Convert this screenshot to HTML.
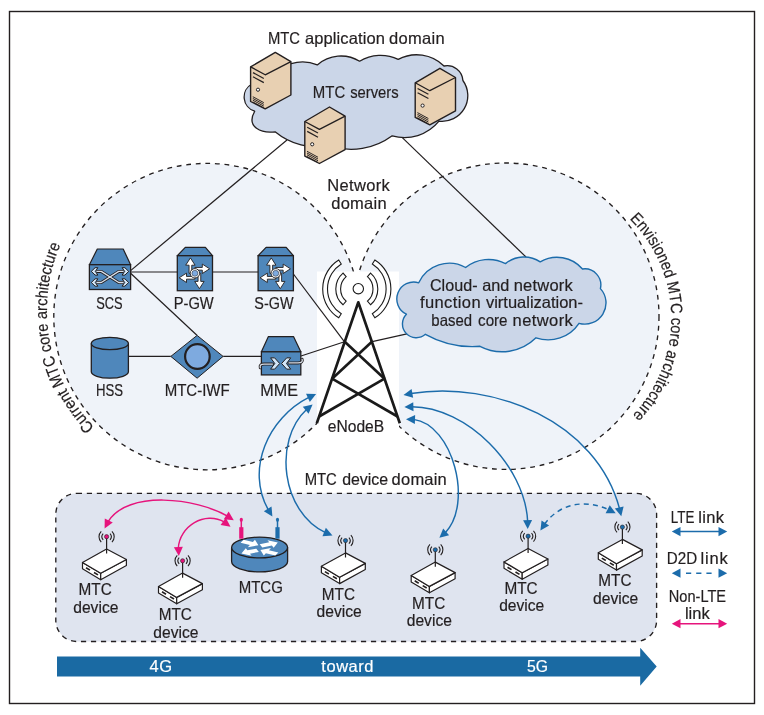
<!DOCTYPE html>
<html><head><meta charset="utf-8"><style>
html,body{margin:0;padding:0;background:#fff;}
svg{display:block;font-family:"Liberation Sans",sans-serif;will-change:transform;}
</style></head><body>
<svg width="764" height="715" viewBox="0 0 764 715">
<rect width="764" height="715" fill="#ffffff"/>
<rect x="9.5" y="11.5" width="745" height="692" fill="none" stroke="#231f20" stroke-width="1.4"/>
<circle cx="207.0" cy="316.6" r="153.2" fill="#eff3f9" stroke="#231f20" stroke-width="1.35" stroke-dasharray="4.8 4.8"/>
<circle cx="505.8" cy="316.2" r="153.2" fill="#eff3f9" stroke="#231f20" stroke-width="1.35" stroke-dasharray="4.8 4.8"/>
<rect x="317" y="271.5" width="82" height="160" fill="#ffffff"/>
<rect x="55.8" y="493.3" width="600.8" height="148.2" rx="21" ry="21" fill="#dfe4ef" stroke="#231f20" stroke-width="1.35" stroke-dasharray="5.2 4.8"/>
<path d="M57 656.5 H640.2 V647.8 L656.7 666.6 L640.2 685.8 V676.6 H57 Z" fill="#1a6aa3"/>
<line x1="130.6" y1="270.6" x2="287" y2="140" stroke="#231f20" stroke-width="1.2" />
<line x1="130.6" y1="272" x2="177.3" y2="272" stroke="#231f20" stroke-width="1.2" />
<line x1="212.5" y1="272" x2="258.1" y2="272" stroke="#231f20" stroke-width="1.2" />
<line x1="130.6" y1="273.2" x2="196.9" y2="335.3" stroke="#231f20" stroke-width="1.2" />
<line x1="128.4" y1="356.4" x2="170.8" y2="356.4" stroke="#231f20" stroke-width="1.2" />
<line x1="223.2" y1="356.3" x2="261.1" y2="356.3" stroke="#231f20" stroke-width="1.2" />
<line x1="293.4" y1="274" x2="344.5" y2="341.8" stroke="#231f20" stroke-width="1.2" />
<line x1="301" y1="356" x2="344.5" y2="341.8" stroke="#231f20" stroke-width="1.2" />
<line x1="372.2" y1="341.6" x2="412.5" y2="332.7" stroke="#231f20" stroke-width="1.2" />
<line x1="402.3" y1="137.6" x2="526" y2="257" stroke="#231f20" stroke-width="1.2" />
<path d="M291.20 63.70 A38.60 38.60 0 0 1 317.30 64.90 A35.95 35.95 0 0 1 359.60 61.20 A40.37 40.37 0 0 1 398.20 59.40 A38.99 38.99 0 0 1 444.00 66.00 A15.71 15.71 0 0 1 462.90 80.50 A25.77 25.77 0 0 1 439.00 121.20 A44.37 44.37 0 0 1 392.20 135.80 A68.65 68.65 0 0 1 330.00 146.00 A67.08 67.08 0 0 1 275.10 131.80 C262 133.5 245.5 127.5 254.70 111.20 A14.77 14.77 0 0 1 252.00 84.00 A32.54 32.54 0 0 1 291.20 63.70 Z" fill="#cbd6e8" stroke="#231f20" stroke-width="1.3" stroke-linejoin="round"/>
<path d="M418.70 282.80 A33.69 33.69 0 0 1 465.60 267.50 A36.68 36.68 0 0 1 505.50 263.60 A29.38 29.38 0 0 1 540.20 261.80 A33.43 33.43 0 0 1 582.50 269.00 A16.13 16.13 0 0 1 600.40 288.60 A21.17 21.17 0 0 1 579.00 323.30 A37.06 37.06 0 0 1 536.00 337.80 A47.97 47.97 0 0 1 480.00 346.30 A96.17 96.17 0 0 1 425.40 334.30 A13.84 13.84 0 0 1 406.40 314.20 A16.91 16.91 0 0 1 418.70 282.80 Z" fill="#cbd6e8" stroke="#1c6cab" stroke-width="1.4" stroke-linejoin="round"/>
<polygon points="275.30,52.40 290.90,61.60 290.90,95.00 265.20,108.90 250.60,101.50 250.60,66.90" fill="#e8d0b2" stroke="#231f20" stroke-width="1.4" stroke-linejoin="round" />
<polyline points="250.60,66.90 265.20,74.80 290.90,61.60" fill="none" stroke="#231f20" stroke-width="1.3" stroke-linejoin="round"/>
<line x1="253.0" y1="72.6" x2="263.8" y2="78.44" stroke="#231f20" stroke-width="1.2" />
<line x1="253.0" y1="76.8" x2="263.8" y2="82.64" stroke="#231f20" stroke-width="1.2" />
<circle cx="258.00" cy="89.70" r="1.6" fill="#fff" stroke="#231f20" stroke-width="1.0"/>
<line x1="252.8" y1="96.69" x2="263.8" y2="102.64" stroke="#231f20" stroke-width="0.95" />
<line x1="252.8" y1="98.44" x2="263.8" y2="104.39" stroke="#231f20" stroke-width="0.95" />
<line x1="252.8" y1="100.19" x2="263.8" y2="106.14" stroke="#231f20" stroke-width="0.95" />
<line x1="252.8" y1="101.94" x2="263.8" y2="107.89" stroke="#231f20" stroke-width="0.95" />
<polygon points="439.90,68.30 455.50,77.50 455.50,110.90 429.80,124.80 415.20,117.40 415.20,82.80" fill="#e8d0b2" stroke="#231f20" stroke-width="1.4" stroke-linejoin="round" />
<polyline points="415.20,82.80 429.80,90.70 455.50,77.50" fill="none" stroke="#231f20" stroke-width="1.3" stroke-linejoin="round"/>
<line x1="417.6" y1="88.5" x2="428.4" y2="94.34" stroke="#231f20" stroke-width="1.2" />
<line x1="417.6" y1="92.7" x2="428.4" y2="98.54" stroke="#231f20" stroke-width="1.2" />
<circle cx="422.60" cy="105.60" r="1.6" fill="#fff" stroke="#231f20" stroke-width="1.0"/>
<line x1="417.4" y1="112.59" x2="428.4" y2="118.54" stroke="#231f20" stroke-width="0.95" />
<line x1="417.4" y1="114.34" x2="428.4" y2="120.29" stroke="#231f20" stroke-width="0.95" />
<line x1="417.4" y1="116.09" x2="428.4" y2="122.04" stroke="#231f20" stroke-width="0.95" />
<line x1="417.4" y1="117.84" x2="428.4" y2="123.79" stroke="#231f20" stroke-width="0.95" />
<polygon points="329.50,107.00 345.10,116.20 345.10,149.60 319.40,163.50 304.80,156.10 304.80,121.50" fill="#e8d0b2" stroke="#231f20" stroke-width="1.4" stroke-linejoin="round" />
<polyline points="304.80,121.50 319.40,129.40 345.10,116.20" fill="none" stroke="#231f20" stroke-width="1.3" stroke-linejoin="round"/>
<line x1="307.2" y1="127.2" x2="318.0" y2="133.04" stroke="#231f20" stroke-width="1.2" />
<line x1="307.2" y1="131.4" x2="318.0" y2="137.24" stroke="#231f20" stroke-width="1.2" />
<circle cx="312.20" cy="144.30" r="1.6" fill="#fff" stroke="#231f20" stroke-width="1.0"/>
<line x1="307.0" y1="151.29" x2="318.0" y2="157.24" stroke="#231f20" stroke-width="0.95" />
<line x1="307.0" y1="153.04" x2="318.0" y2="158.99" stroke="#231f20" stroke-width="0.95" />
<line x1="307.0" y1="154.79" x2="318.0" y2="160.74" stroke="#231f20" stroke-width="0.95" />
<line x1="307.0" y1="156.54" x2="318.0" y2="162.49" stroke="#231f20" stroke-width="0.95" />
<polygon points="89.40,264.70 97.30,249.00 123.20,249.00 130.60,264.70" fill="#4f87bb" stroke="#231f20" stroke-width="1.2" stroke-linejoin="round" />
<rect x="89.4" y="264.7" width="41.20" height="24.80" fill="#4f87bb" stroke="#231f20" stroke-width="1.3"/>
<path d="M96.5 271.4 L101.3 271.4 L118.7 282.5 L123.5 282.5" fill="none" stroke="#231f20" stroke-width="3.0" stroke-linejoin="round"/>
<path d="M96.5 282.5 L101.3 282.5 L118.7 271.4 L123.5 271.4" fill="none" stroke="#231f20" stroke-width="3.0" stroke-linejoin="round"/>
<path d="M96.5 271.4 L101.3 271.4 L118.7 282.5 L123.5 282.5" fill="none" stroke="#d9e0ea" stroke-width="1.3" stroke-linejoin="round"/>
<path d="M96.5 282.5 L101.3 282.5 L118.7 271.4 L123.5 271.4" fill="none" stroke="#d9e0ea" stroke-width="1.3" stroke-linejoin="round"/>
<polygon points="97.90,267.70 95.10,267.70 91.30,271.40 95.10,275.10 97.90,275.10 95.30,271.40" fill="#d3e6f7" stroke="#231f20" stroke-width="1.0" stroke-linejoin="round" stroke-linejoin="miter"/>
<polygon points="122.10,267.70 124.90,267.70 128.70,271.40 124.90,275.10 122.10,275.10 124.70,271.40" fill="#d3e6f7" stroke="#231f20" stroke-width="1.0" stroke-linejoin="round" stroke-linejoin="miter"/>
<polygon points="97.90,278.80 95.10,278.80 91.30,282.50 95.10,286.20 97.90,286.20 95.30,282.50" fill="#d3e6f7" stroke="#231f20" stroke-width="1.0" stroke-linejoin="round" stroke-linejoin="miter"/>
<polygon points="122.10,278.80 124.90,278.80 128.70,282.50 124.90,286.20 122.10,286.20 124.70,282.50" fill="#d3e6f7" stroke="#231f20" stroke-width="1.0" stroke-linejoin="round" stroke-linejoin="miter"/>
<polygon points="177.30,255.70 185.30,247.30 205.40,247.30 212.50,255.70" fill="#4f87bb" stroke="#231f20" stroke-width="1.2" stroke-linejoin="round" />
<rect x="177.3" y="255.7" width="35.20" height="35.00" fill="#4f87bb" stroke="#231f20" stroke-width="1.3"/>
<polygon points="191.75,273.30 191.75,265.20 195.10,265.20 190.40,257.90 185.70,265.20 189.05,265.20 189.05,273.30" fill="#ffffff" stroke="#231f20" stroke-width="0.9" stroke-linejoin="round" stroke-linejoin="miter"/>
<polygon points="194.90,270.15 202.30,270.15 202.30,273.50 209.60,268.80 202.30,264.10 202.30,267.45 194.90,267.45" fill="#ffffff" stroke="#231f20" stroke-width="0.9" stroke-linejoin="round" stroke-linejoin="miter"/>
<polygon points="198.05,273.30 198.05,281.40 194.70,281.40 199.40,288.70 204.10,281.40 200.75,281.40 200.75,273.30" fill="#ffffff" stroke="#231f20" stroke-width="0.9" stroke-linejoin="round" stroke-linejoin="miter"/>
<polygon points="194.90,276.45 186.50,276.45 186.50,273.10 179.20,277.80 186.50,282.50 186.50,279.15 194.90,279.15" fill="#ffffff" stroke="#231f20" stroke-width="0.9" stroke-linejoin="round" stroke-linejoin="miter"/>
<circle cx="194.9" cy="273.3" r="4.7" fill="#ffffff" stroke="#231f20" stroke-width="0.9"/>
<circle cx="194.9" cy="273.3" r="3.0" fill="#7eaadf" stroke="#231f20" stroke-width="0.5"/>
<polygon points="258.10,255.70 266.10,247.30 286.20,247.30 293.40,255.70" fill="#4f87bb" stroke="#231f20" stroke-width="1.2" stroke-linejoin="round" />
<rect x="258.1" y="255.7" width="35.30" height="35.00" fill="#4f87bb" stroke="#231f20" stroke-width="1.3"/>
<polygon points="272.60,273.30 272.60,265.20 275.95,265.20 271.25,257.90 266.55,265.20 269.90,265.20 269.90,273.30" fill="#ffffff" stroke="#231f20" stroke-width="0.9" stroke-linejoin="round" stroke-linejoin="miter"/>
<polygon points="275.75,270.15 283.15,270.15 283.15,273.50 290.45,268.80 283.15,264.10 283.15,267.45 275.75,267.45" fill="#ffffff" stroke="#231f20" stroke-width="0.9" stroke-linejoin="round" stroke-linejoin="miter"/>
<polygon points="278.90,273.30 278.90,281.40 275.55,281.40 280.25,288.70 284.95,281.40 281.60,281.40 281.60,273.30" fill="#ffffff" stroke="#231f20" stroke-width="0.9" stroke-linejoin="round" stroke-linejoin="miter"/>
<polygon points="275.75,276.45 267.35,276.45 267.35,273.10 260.05,277.80 267.35,282.50 267.35,279.15 275.75,279.15" fill="#ffffff" stroke="#231f20" stroke-width="0.9" stroke-linejoin="round" stroke-linejoin="miter"/>
<circle cx="275.75" cy="273.3" r="4.7" fill="#ffffff" stroke="#231f20" stroke-width="0.9"/>
<circle cx="275.75" cy="273.3" r="3.0" fill="#7eaadf" stroke="#231f20" stroke-width="0.5"/>
<polygon points="261.40,351.80 268.40,336.60 293.50,336.60 300.80,351.80" fill="#4f87bb" stroke="#231f20" stroke-width="1.2" stroke-linejoin="round" />
<rect x="261.4" y="351.8" width="39.40" height="23.10" fill="#4f87bb" stroke="#231f20" stroke-width="1.3"/>
<path d="M260.3 367.8 Q259.3 364.1 264 364.1 L272.5 364.1" fill="none" stroke="#231f20" stroke-width="3.0" stroke-linecap="round"/>
<path d="M289 362.9 L298 362.9 Q303.3 362.7 302.1 359.3" fill="none" stroke="#231f20" stroke-width="3.0" stroke-linecap="round"/>
<path d="M260.3 367.8 Q259.3 364.1 264 364.1 L272.5 364.1" fill="none" stroke="#d9e0ea" stroke-width="1.3" stroke-linecap="round"/>
<path d="M289 362.9 L298 362.9 Q303.3 362.7 302.1 359.3" fill="none" stroke="#d9e0ea" stroke-width="1.3" stroke-linecap="round"/>
<polygon points="270.60,357.85 274.60,357.85 279.70,363.50 274.60,369.15 270.60,369.15 274.80,363.50" fill="#d3e6f7" stroke="#231f20" stroke-width="1.0" stroke-linejoin="round" stroke-linejoin="miter"/>
<polygon points="290.70,357.85 286.70,357.85 281.60,363.50 286.70,369.15 290.70,369.15 286.50,363.50" fill="#d3e6f7" stroke="#231f20" stroke-width="1.0" stroke-linejoin="round" stroke-linejoin="miter"/>
<path d="M91.3 343.5 V371.8 A18.55 6.4 0 0 0 128.4 371.8 V343.5" fill="#4f87bb" stroke="#231f20" stroke-width="1.3"/>
<ellipse cx="109.85" cy="343.5" rx="18.55" ry="6.2" fill="#4f87bb" stroke="#231f20" stroke-width="1.3"/>
<polygon points="170.80,356.40 197.10,335.40 223.10,356.40 197.10,378.20" fill="#4f87bb" stroke="#231f20" stroke-width="1.0" stroke-linejoin="round" />
<circle cx="197.4" cy="356.5" r="12.3" fill="#7eaadf" stroke="#231f20" stroke-width="2.2"/>
<path d="M343.02 273.05 A21.0 21.0 0 0 0 343.02 304.75 L346.17 301.13 A16.2 16.2 0 0 1 346.17 276.67 Z" fill="#ffffff" stroke="#1a1a1a" stroke-width="1.1" stroke-linejoin="miter"/>
<path d="M338.73 259.98 A34.1 34.1 0 0 0 338.73 317.82 L341.27 313.75 A29.3 29.3 0 0 1 341.27 264.05 Z" fill="#ffffff" stroke="#1a1a1a" stroke-width="1.1" stroke-linejoin="miter"/>
<path d="M370.58 273.05 A21.0 21.0 0 0 1 370.58 304.75 L367.43 301.13 A16.2 16.2 0 0 0 367.43 276.67 Z" fill="#ffffff" stroke="#1a1a1a" stroke-width="1.1" stroke-linejoin="miter"/>
<path d="M374.87 259.98 A34.1 34.1 0 0 1 374.87 317.82 L372.33 313.75 A29.3 29.3 0 0 0 372.33 264.05 Z" fill="#ffffff" stroke="#1a1a1a" stroke-width="1.1" stroke-linejoin="miter"/>
<circle cx="358.3" cy="288.7" r="5.2" fill="#fff" stroke="#1a1a1a" stroke-width="1.1"/>
<polyline points="316.8,423.2 358.3,302.3 399.8,423.2" fill="none" stroke="#1a1a1a" stroke-width="2.65" stroke-linejoin="round"/>
<line x1="344.74" y1="341.8" x2="384.52" y2="378.7" stroke="#1a1a1a" stroke-width="2.65" />
<line x1="371.86" y1="341.8" x2="332.08" y2="378.7" stroke="#1a1a1a" stroke-width="2.65" />
<line x1="332.08" y1="378.7" x2="397.5" y2="416.5" stroke="#1a1a1a" stroke-width="2.65" />
<line x1="384.52" y1="378.7" x2="319.1" y2="416.5" stroke="#1a1a1a" stroke-width="2.65" />
<polygon points="82.50,562.40 100.70,573.30 100.70,579.70 82.50,568.80" fill="#ffffff" stroke="#231f20" stroke-width="1.2" stroke-linejoin="round" />
<polygon points="100.70,573.30 126.40,559.50 126.40,565.58 100.70,579.70" fill="#ffffff" stroke="#231f20" stroke-width="1.2" stroke-linejoin="round" />
<polygon points="106.60,549.00 126.40,559.50 100.70,573.30 82.50,562.40" fill="#ffffff" stroke="#231f20" stroke-width="1.2" stroke-linejoin="round" />
<line x1="86.00" y1="567.70" x2="90.00" y2="570.09" stroke="#231f20" stroke-width="1.6"/>
<line x1="94.00" y1="572.49" x2="98.00" y2="574.88" stroke="#231f20" stroke-width="1.6"/>
<line x1="106.6" y1="536.7" x2="106.6" y2="553.6" stroke="#231f20" stroke-width="1.2" />
<circle cx="106.6" cy="536.7" r="2.1" fill="#e6147c" stroke="#231f20" stroke-width="0.6"/>
<path d="M103.18 533.62 A4.6 4.6 0 0 0 103.18 539.78" fill="none" stroke="#231f20" stroke-width="1.1"/>
<path d="M110.02 533.62 A4.6 4.6 0 0 1 110.02 539.78" fill="none" stroke="#231f20" stroke-width="1.1"/>
<path d="M101.23 531.33 A7.6 7.6 0 0 0 101.23 542.07" fill="none" stroke="#231f20" stroke-width="1.1"/>
<path d="M111.97 531.33 A7.6 7.6 0 0 1 111.97 542.07" fill="none" stroke="#231f20" stroke-width="1.1"/>
<polygon points="158.50,586.50 176.70,597.40 176.70,603.80 158.50,592.90" fill="#ffffff" stroke="#231f20" stroke-width="1.2" stroke-linejoin="round" />
<polygon points="176.70,597.40 202.40,583.60 202.40,589.68 176.70,603.80" fill="#ffffff" stroke="#231f20" stroke-width="1.2" stroke-linejoin="round" />
<polygon points="182.60,573.10 202.40,583.60 176.70,597.40 158.50,586.50" fill="#ffffff" stroke="#231f20" stroke-width="1.2" stroke-linejoin="round" />
<line x1="162.00" y1="591.80" x2="166.00" y2="594.19" stroke="#231f20" stroke-width="1.6"/>
<line x1="170.00" y1="596.59" x2="174.00" y2="598.98" stroke="#231f20" stroke-width="1.6"/>
<line x1="182.6" y1="560.8" x2="182.6" y2="577.6999999999999" stroke="#231f20" stroke-width="1.2" />
<circle cx="182.6" cy="560.8" r="2.1" fill="#e6147c" stroke="#231f20" stroke-width="0.6"/>
<path d="M179.18 557.72 A4.6 4.6 0 0 0 179.18 563.88" fill="none" stroke="#231f20" stroke-width="1.1"/>
<path d="M186.02 557.72 A4.6 4.6 0 0 1 186.02 563.88" fill="none" stroke="#231f20" stroke-width="1.1"/>
<path d="M177.23 555.43 A7.6 7.6 0 0 0 177.23 566.17" fill="none" stroke="#231f20" stroke-width="1.1"/>
<path d="M187.97 555.43 A7.6 7.6 0 0 1 187.97 566.17" fill="none" stroke="#231f20" stroke-width="1.1"/>
<polygon points="321.40,566.30 339.60,577.20 339.60,583.60 321.40,572.70" fill="#ffffff" stroke="#231f20" stroke-width="1.2" stroke-linejoin="round" />
<polygon points="339.60,577.20 365.30,563.40 365.30,569.48 339.60,583.60" fill="#ffffff" stroke="#231f20" stroke-width="1.2" stroke-linejoin="round" />
<polygon points="345.50,552.90 365.30,563.40 339.60,577.20 321.40,566.30" fill="#ffffff" stroke="#231f20" stroke-width="1.2" stroke-linejoin="round" />
<line x1="324.90" y1="571.60" x2="328.90" y2="573.99" stroke="#231f20" stroke-width="1.6"/>
<line x1="332.90" y1="576.39" x2="336.90" y2="578.78" stroke="#231f20" stroke-width="1.6"/>
<line x1="345.5" y1="540.6" x2="345.5" y2="557.5" stroke="#231f20" stroke-width="1.2" />
<circle cx="345.5" cy="540.6" r="2.1" fill="#1c6cab" stroke="#231f20" stroke-width="0.6"/>
<path d="M342.08 537.52 A4.6 4.6 0 0 0 342.08 543.68" fill="none" stroke="#231f20" stroke-width="1.1"/>
<path d="M348.92 537.52 A4.6 4.6 0 0 1 348.92 543.68" fill="none" stroke="#231f20" stroke-width="1.1"/>
<path d="M340.13 535.23 A7.6 7.6 0 0 0 340.13 545.97" fill="none" stroke="#231f20" stroke-width="1.1"/>
<path d="M350.87 535.23 A7.6 7.6 0 0 1 350.87 545.97" fill="none" stroke="#231f20" stroke-width="1.1"/>
<polygon points="411.20,575.50 429.40,586.40 429.40,592.80 411.20,581.90" fill="#ffffff" stroke="#231f20" stroke-width="1.2" stroke-linejoin="round" />
<polygon points="429.40,586.40 455.10,572.60 455.10,578.68 429.40,592.80" fill="#ffffff" stroke="#231f20" stroke-width="1.2" stroke-linejoin="round" />
<polygon points="435.30,562.10 455.10,572.60 429.40,586.40 411.20,575.50" fill="#ffffff" stroke="#231f20" stroke-width="1.2" stroke-linejoin="round" />
<line x1="414.70" y1="580.80" x2="418.70" y2="583.19" stroke="#231f20" stroke-width="1.6"/>
<line x1="422.70" y1="585.59" x2="426.70" y2="587.98" stroke="#231f20" stroke-width="1.6"/>
<line x1="435.3" y1="549.8" x2="435.3" y2="566.6999999999999" stroke="#231f20" stroke-width="1.2" />
<circle cx="435.3" cy="549.8" r="2.1" fill="#1c6cab" stroke="#231f20" stroke-width="0.6"/>
<path d="M431.88 546.72 A4.6 4.6 0 0 0 431.88 552.88" fill="none" stroke="#231f20" stroke-width="1.1"/>
<path d="M438.72 546.72 A4.6 4.6 0 0 1 438.72 552.88" fill="none" stroke="#231f20" stroke-width="1.1"/>
<path d="M429.93 544.43 A7.6 7.6 0 0 0 429.93 555.17" fill="none" stroke="#231f20" stroke-width="1.1"/>
<path d="M440.67 544.43 A7.6 7.6 0 0 1 440.67 555.17" fill="none" stroke="#231f20" stroke-width="1.1"/>
<polygon points="504.00,561.90 522.20,572.80 522.20,579.20 504.00,568.30" fill="#ffffff" stroke="#231f20" stroke-width="1.2" stroke-linejoin="round" />
<polygon points="522.20,572.80 547.90,559.00 547.90,565.08 522.20,579.20" fill="#ffffff" stroke="#231f20" stroke-width="1.2" stroke-linejoin="round" />
<polygon points="528.10,548.50 547.90,559.00 522.20,572.80 504.00,561.90" fill="#ffffff" stroke="#231f20" stroke-width="1.2" stroke-linejoin="round" />
<line x1="507.50" y1="567.20" x2="511.50" y2="569.59" stroke="#231f20" stroke-width="1.6"/>
<line x1="515.50" y1="571.99" x2="519.50" y2="574.38" stroke="#231f20" stroke-width="1.6"/>
<line x1="528.1" y1="536.2" x2="528.1" y2="553.1" stroke="#231f20" stroke-width="1.2" />
<circle cx="528.1" cy="536.2" r="2.1" fill="#1c6cab" stroke="#231f20" stroke-width="0.6"/>
<path d="M524.68 533.12 A4.6 4.6 0 0 0 524.68 539.28" fill="none" stroke="#231f20" stroke-width="1.1"/>
<path d="M531.52 533.12 A4.6 4.6 0 0 1 531.52 539.28" fill="none" stroke="#231f20" stroke-width="1.1"/>
<path d="M522.73 530.83 A7.6 7.6 0 0 0 522.73 541.57" fill="none" stroke="#231f20" stroke-width="1.1"/>
<path d="M533.47 530.83 A7.6 7.6 0 0 1 533.47 541.57" fill="none" stroke="#231f20" stroke-width="1.1"/>
<polygon points="598.30,552.80 616.50,563.70 616.50,570.10 598.30,559.20" fill="#ffffff" stroke="#231f20" stroke-width="1.2" stroke-linejoin="round" />
<polygon points="616.50,563.70 642.20,549.90 642.20,555.98 616.50,570.10" fill="#ffffff" stroke="#231f20" stroke-width="1.2" stroke-linejoin="round" />
<polygon points="622.40,539.40 642.20,549.90 616.50,563.70 598.30,552.80" fill="#ffffff" stroke="#231f20" stroke-width="1.2" stroke-linejoin="round" />
<line x1="601.80" y1="558.10" x2="605.80" y2="560.49" stroke="#231f20" stroke-width="1.6"/>
<line x1="609.80" y1="562.89" x2="613.80" y2="565.28" stroke="#231f20" stroke-width="1.6"/>
<line x1="622.4" y1="527.1" x2="622.4" y2="544.0" stroke="#231f20" stroke-width="1.2" />
<circle cx="622.4" cy="527.1" r="2.1" fill="#1c6cab" stroke="#231f20" stroke-width="0.6"/>
<path d="M618.98 524.02 A4.6 4.6 0 0 0 618.98 530.18" fill="none" stroke="#231f20" stroke-width="1.1"/>
<path d="M625.82 524.02 A4.6 4.6 0 0 1 625.82 530.18" fill="none" stroke="#231f20" stroke-width="1.1"/>
<path d="M617.03 521.73 A7.6 7.6 0 0 0 617.03 532.47" fill="none" stroke="#231f20" stroke-width="1.1"/>
<path d="M627.77 521.73 A7.6 7.6 0 0 1 627.77 532.47" fill="none" stroke="#231f20" stroke-width="1.1"/>
<path d="M231.60000000000002 547.5 V561.5 A28 10.4 0 0 0 287.6 561.5 V547.5" fill="#4f87bb" stroke="#231f20" stroke-width="1.3"/>
<ellipse cx="259.6" cy="547.5" rx="28" ry="10.4" fill="#4f87bb" stroke="#231f20" stroke-width="1.3"/>
<g transform="translate(259.6,547.5) scale(1,0.5)">
<polygon points="-19.03,-9.35 -9.75,-4.85 -11.80,-0.62 -1.20,-4.60 -4.64,-15.38 -6.69,-11.15 -15.97,-15.65" fill="#ffffff" stroke="none" stroke-width="0" stroke-linejoin="round" />
<polygon points="2.71,0.04 12.28,-3.83 14.05,0.53 18.20,-10.00 7.89,-14.67 9.66,-10.32 0.09,-6.44" fill="#ffffff" stroke="none" stroke-width="0" stroke-linejoin="round" />
<polygon points="-3.25,2.33 -12.17,5.74 -13.85,1.35 -18.20,11.80 -7.98,16.67 -9.66,12.28 -0.75,8.87" fill="#ffffff" stroke="none" stroke-width="0" stroke-linejoin="round" />
<polygon points="18.73,9.85 9.34,5.27 11.41,1.05 0.80,5.00 4.22,15.79 6.28,11.57 15.67,16.15" fill="#ffffff" stroke="none" stroke-width="0" stroke-linejoin="round" />
</g>
<rect x="239.20000000000002" y="527.2" width="4.2" height="11.5" fill="#e6147c"/>
<rect x="240.55" y="521" width="1.5" height="7" fill="#e6147c"/>
<ellipse cx="241.3" cy="519.8" rx="1.6" ry="2.1" fill="#e6147c"/>
<rect x="275.4" y="527.2" width="4.2" height="11.5" fill="#1c6cab"/>
<rect x="276.75" y="521" width="1.5" height="7" fill="#1c6cab"/>
<ellipse cx="277.5" cy="519.8" rx="1.6" ry="2.1" fill="#1c6cab"/>
<path d="M309.26 397.18 C268.29 417.79 245.27 468.89 268.41 510.15" fill="none" stroke="#1c6cab" stroke-width="1.45" />
<polygon points="316.10,394.10 309.81,401.96 306.04,393.78" fill="#1c6cab" stroke="none" stroke-width="0" stroke-linejoin="round" />
<polygon points="272.40,516.50 263.86,511.19 271.52,506.48" fill="#1c6cab" stroke="none" stroke-width="0" stroke-linejoin="round" />
<path d="M306.77 409.21 C272.72 440.80 281.62 512.13 325.52 532.67" fill="none" stroke="#1c6cab" stroke-width="1.45" />
<polygon points="312.60,404.50 308.55,413.71 302.80,406.79" fill="#1c6cab" stroke="none" stroke-width="0" stroke-linejoin="round" />
<polygon points="332.50,535.40 322.47,536.18 325.86,527.84" fill="#1c6cab" stroke="none" stroke-width="0" stroke-linejoin="round" />
<path d="M410.88 393.54 C493.95 380.01 596.77 421.73 619.60 508.90" fill="none" stroke="#1c6cab" stroke-width="1.45" />
<polygon points="403.50,394.90 411.56,388.88 413.15,397.74" fill="#1c6cab" stroke="none" stroke-width="0" stroke-linejoin="round" />
<polygon points="621.30,516.20 614.83,508.49 623.59,506.40" fill="#1c6cab" stroke="none" stroke-width="0" stroke-linejoin="round" />
<path d="M411.89 406.66 C466.72 406.89 524.99 465.42 527.68 521.60" fill="none" stroke="#1c6cab" stroke-width="1.45" />
<polygon points="404.40,407.00 413.23,402.18 413.55,411.18" fill="#1c6cab" stroke="none" stroke-width="0" stroke-linejoin="round" />
<polygon points="527.70,529.10 523.09,520.15 532.09,520.05" fill="#1c6cab" stroke="none" stroke-width="0" stroke-linejoin="round" />
<path d="M413.50 419.38 C452.90 424.49 473.53 503.34 445.14 532.88" fill="none" stroke="#1c6cab" stroke-width="1.45" />
<polygon points="406.00,419.30 415.15,415.11 414.84,424.10" fill="#1c6cab" stroke="none" stroke-width="0" stroke-linejoin="round" />
<polygon points="439.40,537.70 443.20,528.38 449.13,535.15" fill="#1c6cab" stroke="none" stroke-width="0" stroke-linejoin="round" />
<path d="M544.43 524.28 C560.64 502.02 586.53 499.45 609.06 509.81" fill="none" stroke="#1c6cab" stroke-width="1.45" stroke-dasharray="5 4.2"/>
<polygon points="540.40,530.60 541.57,520.61 549.10,525.54" fill="#1c6cab" stroke="none" stroke-width="0" stroke-linejoin="round" />
<polygon points="615.70,513.30 605.64,513.20 609.74,505.19" fill="#1c6cab" stroke="none" stroke-width="0" stroke-linejoin="round" />
<path d="M107.92 521.77 C128.33 489.46 196.25 498.21 227.52 516.11" fill="none" stroke="#e6147c" stroke-width="1.45" />
<polygon points="104.60,528.50 104.76,518.44 112.74,522.59" fill="#e6147c" stroke="none" stroke-width="0" stroke-linejoin="round" />
<polygon points="233.80,520.20 223.79,519.17 228.62,511.57" fill="#e6147c" stroke="none" stroke-width="0" stroke-linejoin="round" />
<path d="M178.26 548.52 C179.37 526.21 204.84 510.75 224.52 522.18" fill="none" stroke="#e6147c" stroke-width="1.45" />
<polygon points="178.80,556.00 173.88,547.22 182.87,546.80" fill="#e6147c" stroke="none" stroke-width="0" stroke-linejoin="round" />
<polygon points="230.50,526.70 220.56,525.11 225.81,517.80" fill="#e6147c" stroke="none" stroke-width="0" stroke-linejoin="round" />
<polygon points="671.80,531.60 680.50,527.00 680.50,536.20" fill="#1c6cab" stroke="none" stroke-width="0" stroke-linejoin="round" />
<polygon points="727.20,531.60 718.50,536.20 718.50,527.00" fill="#1c6cab" stroke="none" stroke-width="0" stroke-linejoin="round" />
<line x1="678.8" y1="531.6" x2="720.2" y2="531.6" stroke="#1c6cab" stroke-width="1.5"/>
<polygon points="671.80,573.20 680.50,568.60 680.50,577.80" fill="#1c6cab" stroke="none" stroke-width="0" stroke-linejoin="round" />
<polygon points="727.20,573.20 718.50,577.80 718.50,568.60" fill="#1c6cab" stroke="none" stroke-width="0" stroke-linejoin="round" />
<line x1="686" y1="573.2" x2="711.8" y2="573.2" stroke="#1c6cab" stroke-width="1.5" stroke-dasharray="5.2 5"/>
<polygon points="671.80,623.70 680.50,619.10 680.50,628.30" fill="#e6147c" stroke="none" stroke-width="0" stroke-linejoin="round" />
<polygon points="727.20,623.70 718.50,628.30 718.50,619.10" fill="#e6147c" stroke="none" stroke-width="0" stroke-linejoin="round" />
<line x1="678.8" y1="623.7" x2="720.2" y2="623.7" stroke="#e6147c" stroke-width="1.5"/>
<text x="267.89" y="44.00" font-size="16.5" textLength="32.08" lengthAdjust="spacingAndGlyphs" fill="#231f20" stroke="#231f20" stroke-width="0.2" >MTC</text>
<text x="304.90" y="44.00" font-size="16.5" textLength="80.07" lengthAdjust="spacing" fill="#231f20" stroke="#231f20" stroke-width="0.2" >application</text>
<text x="389.11" y="44.00" font-size="16.5" textLength="55.56" lengthAdjust="spacing" fill="#231f20" stroke="#231f20" stroke-width="0.2" >domain</text>
<text x="312.87" y="97.70" font-size="16.5" textLength="32.40" lengthAdjust="spacingAndGlyphs" fill="#231f20" stroke="#231f20" stroke-width="0.2" >MTC</text>
<text x="350.19" y="97.70" font-size="16.5" textLength="48.45" lengthAdjust="spacingAndGlyphs" fill="#231f20" stroke="#231f20" stroke-width="0.2" >servers</text>
<text x="327.15" y="191.00" font-size="16.5" textLength="62.63" lengthAdjust="spacing" fill="#231f20" stroke="#231f20" stroke-width="0.2" >Network</text>
<text x="331.21" y="208.70" font-size="16.5" textLength="55.46" lengthAdjust="spacing" fill="#231f20" stroke="#231f20" stroke-width="0.2" >domain</text>
<text x="429.98" y="291.00" font-size="16.5" textLength="47.54" lengthAdjust="spacingAndGlyphs" fill="#231f20" stroke="#231f20" stroke-width="0.2" >Cloud-</text>
<text x="482.21" y="291.00" font-size="16.5" textLength="27.14" lengthAdjust="spacingAndGlyphs" fill="#231f20" stroke="#231f20" stroke-width="0.2" >and</text>
<text x="513.70" y="291.00" font-size="16.5" textLength="59.07" lengthAdjust="spacing" fill="#231f20" stroke="#231f20" stroke-width="0.2" >network</text>
<text x="419.97" y="308.00" font-size="16.5" textLength="60.61" lengthAdjust="spacing" fill="#231f20" stroke="#231f20" stroke-width="0.2" >function</text>
<text x="485.94" y="308.00" font-size="16.5" textLength="97.09" lengthAdjust="spacingAndGlyphs" fill="#231f20" stroke="#231f20" stroke-width="0.2" >virtualization-</text>
<text x="431.34" y="325.50" font-size="16.5" textLength="40.73" lengthAdjust="spacingAndGlyphs" fill="#231f20" stroke="#231f20" stroke-width="0.2" >based</text>
<text x="478.06" y="325.50" font-size="16.5" textLength="29.52" lengthAdjust="spacingAndGlyphs" fill="#231f20" stroke="#231f20" stroke-width="0.2" >core</text>
<text x="512.60" y="325.50" font-size="16.5" textLength="60.17" lengthAdjust="spacing" fill="#231f20" stroke="#231f20" stroke-width="0.2" >network</text>
<text x="96.32" y="308.60" font-size="16.5" textLength="26.37" lengthAdjust="spacingAndGlyphs" fill="#231f20" stroke="#231f20" stroke-width="0.2" >SCS</text>
<text x="173.69" y="308.60" font-size="16.5" textLength="40.06" lengthAdjust="spacingAndGlyphs" fill="#231f20" stroke="#231f20" stroke-width="0.2" >P-GW</text>
<text x="254.35" y="308.60" font-size="16.5" textLength="39.10" lengthAdjust="spacingAndGlyphs" fill="#231f20" stroke="#231f20" stroke-width="0.2" >S-GW</text>
<text x="95.92" y="396.30" font-size="16.5" textLength="27.09" lengthAdjust="spacingAndGlyphs" fill="#231f20" stroke="#231f20" stroke-width="0.2" >HSS</text>
<text x="164.67" y="396.30" font-size="16.5" textLength="65.03" lengthAdjust="spacingAndGlyphs" fill="#231f20" stroke="#231f20" stroke-width="0.2" >MTC-IWF</text>
<text x="260.37" y="396.30" font-size="16.5" textLength="37.72" lengthAdjust="spacingAndGlyphs" fill="#231f20" stroke="#231f20" stroke-width="0.2" >MME</text>
<text x="327.84" y="432.00" font-size="16.5" textLength="56.39" lengthAdjust="spacingAndGlyphs" fill="#231f20" stroke="#231f20" stroke-width="0.2" >eNodeB</text>
<text x="304.68" y="484.80" font-size="16.5" textLength="32.18" lengthAdjust="spacingAndGlyphs" fill="#231f20" stroke="#231f20" stroke-width="0.2" >MTC</text>
<text x="342.13" y="484.80" font-size="16.5" textLength="45.97" lengthAdjust="spacingAndGlyphs" fill="#231f20" stroke="#231f20" stroke-width="0.2" >device</text>
<text x="391.61" y="484.80" font-size="16.5" textLength="55.16" lengthAdjust="spacing" fill="#231f20" stroke="#231f20" stroke-width="0.2" >domain</text>
<text x="238.67" y="593.20" font-size="16.5" textLength="44.15" lengthAdjust="spacingAndGlyphs" fill="#231f20" stroke="#231f20" stroke-width="0.2" >MTCG</text>
<text x="78.54" y="594.80" font-size="16.5" textLength="33.24" lengthAdjust="spacingAndGlyphs" fill="#231f20" stroke="#231f20" stroke-width="0.2" >MTC</text>
<text x="73.24" y="612.60" font-size="16.5" textLength="45.15" lengthAdjust="spacingAndGlyphs" fill="#231f20" stroke="#231f20" stroke-width="0.2" >device</text>
<text x="158.64" y="619.60" font-size="16.5" textLength="33.24" lengthAdjust="spacingAndGlyphs" fill="#231f20" stroke="#231f20" stroke-width="0.2" >MTC</text>
<text x="153.34" y="637.50" font-size="16.5" textLength="45.15" lengthAdjust="spacingAndGlyphs" fill="#231f20" stroke="#231f20" stroke-width="0.2" >device</text>
<text x="321.84" y="599.50" font-size="16.5" textLength="33.24" lengthAdjust="spacingAndGlyphs" fill="#231f20" stroke="#231f20" stroke-width="0.2" >MTC</text>
<text x="316.54" y="617.00" font-size="16.5" textLength="45.15" lengthAdjust="spacingAndGlyphs" fill="#231f20" stroke="#231f20" stroke-width="0.2" >device</text>
<text x="412.04" y="608.70" font-size="16.5" textLength="33.24" lengthAdjust="spacingAndGlyphs" fill="#231f20" stroke="#231f20" stroke-width="0.2" >MTC</text>
<text x="406.74" y="626.20" font-size="16.5" textLength="45.15" lengthAdjust="spacingAndGlyphs" fill="#231f20" stroke="#231f20" stroke-width="0.2" >device</text>
<text x="504.44" y="593.80" font-size="16.5" textLength="33.24" lengthAdjust="spacingAndGlyphs" fill="#231f20" stroke="#231f20" stroke-width="0.2" >MTC</text>
<text x="499.14" y="611.40" font-size="16.5" textLength="45.15" lengthAdjust="spacingAndGlyphs" fill="#231f20" stroke="#231f20" stroke-width="0.2" >device</text>
<text x="598.34" y="586.00" font-size="16.5" textLength="33.24" lengthAdjust="spacingAndGlyphs" fill="#231f20" stroke="#231f20" stroke-width="0.2" >MTC</text>
<text x="593.04" y="603.50" font-size="16.5" textLength="45.15" lengthAdjust="spacingAndGlyphs" fill="#231f20" stroke="#231f20" stroke-width="0.2" >device</text>
<text x="670.74" y="522.60" font-size="16.5" textLength="23.61" lengthAdjust="spacingAndGlyphs" fill="#231f20" stroke="#231f20" stroke-width="0.2" >LTE</text>
<text x="698.19" y="522.60" font-size="16.5" textLength="25.79" lengthAdjust="spacing" fill="#231f20" stroke="#231f20" stroke-width="0.2" >link</text>
<text x="666.85" y="563.80" font-size="16.5" textLength="30.37" lengthAdjust="spacingAndGlyphs" fill="#231f20" stroke="#231f20" stroke-width="0.2" >D2D</text>
<text x="700.49" y="563.80" font-size="16.5" textLength="27.19" lengthAdjust="spacing" fill="#231f20" stroke="#231f20" stroke-width="0.2" >link</text>
<text x="668.83" y="601.60" font-size="16.5" textLength="57.19" lengthAdjust="spacingAndGlyphs" fill="#231f20" stroke="#231f20" stroke-width="0.2" >Non-LTE</text>
<text x="684.89" y="619.40" font-size="16.5" textLength="24.89" lengthAdjust="spacing" fill="#231f20" stroke="#231f20" stroke-width="0.2" >link</text>
<text x="149.62" y="672.00" font-size="16.5" textLength="22.51" lengthAdjust="spacing" fill="#ffffff" stroke="#ffffff" stroke-width="0.2" >4G</text>
<text x="321.35" y="671.80" font-size="16.5" textLength="52.11" lengthAdjust="spacing" fill="#ffffff" stroke="#ffffff" stroke-width="0.2" >toward</text>
<text x="526.97" y="671.90" font-size="16.5" textLength="21.01" lengthAdjust="spacingAndGlyphs" fill="#ffffff" stroke="#ffffff" stroke-width="0.2" >5G</text>
<defs><path id="lc" d="M117.94 446.97 A166.6 166.6 0 0 1 85.88 203.41"/></defs>
<text font-size="16.5" fill="#231f20" stroke="#231f20" stroke-width="0.2"><textPath href="#lc" startOffset="30.66" textLength="196.79" lengthAdjust="spacingAndGlyphs">Current MTC core architecture</textPath></text>
<defs><path id="rc" d="M601.45 197.72 A139.7 139.7 0 0 1 601.45 439.68"/></defs>
<text font-size="16.5" fill="#231f20" stroke="#231f20" stroke-width="0.2"><textPath href="#rc" startOffset="35.27" textLength="217.73" lengthAdjust="spacingAndGlyphs">Envisioned MTC core architecture</textPath></text>
</svg>
</body></html>
